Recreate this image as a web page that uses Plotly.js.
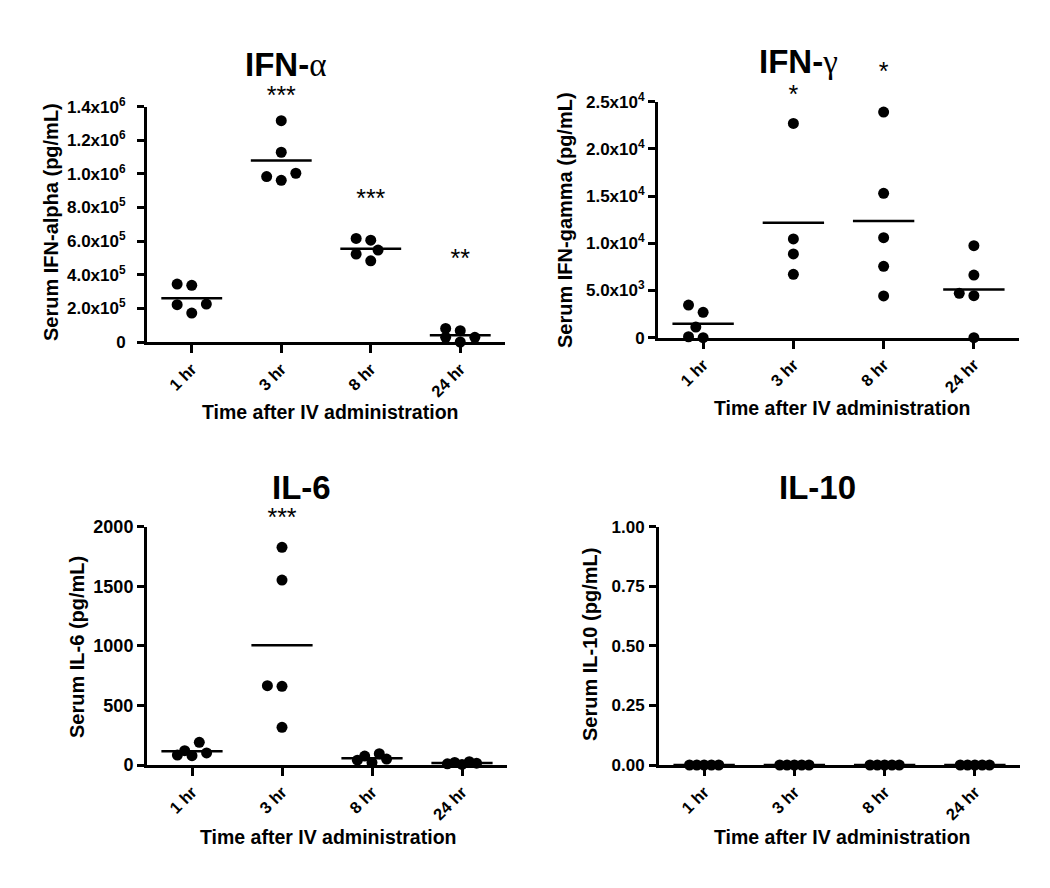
<!DOCTYPE html>
<html>
<head>
<meta charset="utf-8">
<script src="https://cdn.plot.ly/plotly-3.0.1.min.js"></script>
<style>
  html, body { margin: 0; padding: 0; background: #fff; }
  #chart { width: 1050px; height: 888px; }
</style>
</head>
<body>
<div id="chart"></div>
<script>
// time points
const categories = ['1 hr', '3 hr', '8 hr', '24 hr'];

// serum levels per time point (pg/mL)
const ifnAlpha = [
    [345000, 337000, 226000, 222000, 172000],
    [1317000, 1129000, 1004000, 984000, 962000],
    [616000, 606000, 547000, 523000, 483000],
    [81000, 67000, 28000, 28000, 0]
];
const ifnGamma = [
    [3460, 2690, 1130, 0, 100],
    [22700, 10460, 8870, 6710],
    [23900, 15300, 10600, 7560, 4420],
    [9750, 6640, 4700, 4450, 0]
];
const il6 = [
    [190, 120, 101, 84, 78],
    [1827, 1552, 666, 660, 316],
    [95, 75, 50, 40, 20],
    [28, 22, 15, 10, 5]
];
const il10 = [
    [0, 0, 0, 0, 0],
    [0, 0, 0, 0, 0],
    [0, 0, 0, 0, 0],
    [0, 0, 0, 0, 0]
];

// significance marks per time point
const sigAlpha = ['', '***', '***', '**'];
const sigGamma = ['', '*', '*', ''];
const sigIl6 = ['', '***', '', ''];
const sigIl10 = ['', '', '', ''];

// y tick values and labels
const alphaTicks = [0, 2e5, 4e5, 6e5, 8e5, 1e6, 1.2e6, 1.4e6];
const alphaTickText = ['0', '2.0x10<sup>5</sup>', '4.0x10<sup>5</sup>', '6.0x10<sup>5</sup>', '8.0x10<sup>5</sup>',
    '1.0x10<sup>6</sup>', '1.2x10<sup>6</sup>', '1.4x10<sup>6</sup>'];
const gammaTicks = [0, 5000, 10000, 15000, 20000, 25000];
const gammaTickText = ['0', '5.0x10<sup>3</sup>', '1.0x10<sup>4</sup>', '1.5x10<sup>4</sup>', '2.0x10<sup>4</sup>', '2.5x10<sup>4</sup>'];
const il6Ticks = [0, 500, 1000, 1500, 2000];
const il6TickText = ['0', '500', '1000', '1500', '2000'];
const il10Ticks = [0, 0.25, 0.5, 0.75, 1];
const il10TickText = ['0.00', '0.25', '0.50', '0.75', '1.00'];

const W = 1050, H = 888;
const FONT = 'Liberation Sans, Arial, Helvetica, sans-serif';
const GREEK = '<span style="font-family:Liberation Serif, Times New Roman, serif;font-weight:normal">';

// panel boxes in pixels + label placement
const panels = [
    { data: ifnAlpha, sig: sigAlpha, sigY: [0, 1.525e6, 0.916e6, 0.556e6], ticks: alphaTicks, tickText: alphaTickText,
      yMax: 1.4e6, box: [147, 505, 106.7, 342], tickSize: 17, standoff: 8,
      title: 'IFN-' + GREEK + 'α</span>', titlePos: [285, 65],
      ytitle: 'Serum IFN-alpha (pg/mL)', ytitlePos: [51, 222], xtitlePos: [330, 412] },
    { data: ifnGamma, sig: sigGamma, sigY: [0, 26850, 29250, 0], ticks: gammaTicks, tickText: gammaTickText,
      yMax: 25000, box: [658, 1019, 101.7, 337.7], tickSize: 17, standoff: 0,
      title: 'IFN-' + GREEK + 'γ</span>', titlePos: [798, 62],
      ytitle: 'Serum IFN-gamma (pg/mL)', ytitlePos: [565, 220], xtitlePos: [842, 408] },
    { data: il6, sig: sigIl6, sigY: [0, 2165, 0, 0], ticks: il6Ticks, tickText: il6TickText,
      yMax: 2000, box: [147, 507, 526.7, 765], tickSize: 18, standoff: 0,
      title: 'IL-6', titlePos: [301, 487],
      ytitle: 'Serum IL-6 (pg/mL)', ytitlePos: [77, 647], xtitlePos: [328, 837] },
    { data: il10, sig: sigIl10, sigY: [0, 0, 0, 0], ticks: il10Ticks, tickText: il10TickText,
      yMax: 1, box: [659, 1020, 526.7, 765], tickSize: 17, standoff: 1,
      title: 'IL-10', titlePos: [817, 487],
      ytitle: 'Serum IL-10 (pg/mL)', ytitlePos: [590, 645], xtitlePos: [842, 837] }
];

// spread points sideways like a GraphPad dot plot
function swarm(values, pxPerUnit) {
    const step = 7.3, minDist = 12;
    const slots = [0, -1, 1, -2, 2];
    const order = values.map((v, i) => i).sort((a, b) => values[a] - values[b]);
    const placed = [];
    const offs = new Array(values.length).fill(0);
    order.forEach(i => {
        const y = values[i] * pxPerUnit;
        let best = 0, bestD = -1;
        for (const k of slots) {
            const x = k * step;
            let d = Infinity;
            placed.forEach(p => { d = Math.min(d, Math.hypot(p.x - x, p.y - y)); });
            if (d >= minDist) { best = k; bestD = Infinity; break; }
            if (d > bestD) { bestD = d; best = k; }
        }
        placed.push({ x: best * step, y: y });
        offs[i] = best * step;
    });
    return offs;
}

const traces = [];
const annotations = [];
const layout = {
    width: W, height: H,
    margin: { l: 0, r: 0, t: 0, b: 0 },
    paper_bgcolor: '#fff', plot_bgcolor: 'rgba(0,0,0,0)',
    showlegend: false,
    font: { family: FONT, color: '#000' },
    annotations: annotations
};

panels.forEach((p, n) => {
    const id = n === 0 ? '' : String(n + 1);
    const sid = String(n + 5);   // hidden axes for the stars, same scale but taller
    const [l, r, t, b] = p.box;
    const pxPerCat = (r - l) / 4;
    const pxPerUnit = (b - t) / p.yMax;

    const xs = [], ys = [];
    const sx = [], sy = [], st = [];
    p.data.forEach((vals, i) => {
        const offs = swarm(vals, pxPerUnit);
        vals.forEach((v, j) => { xs.push(i + offs[j] / pxPerCat); ys.push(v); });
        const mean = vals.reduce((s, v) => s + v, 0) / vals.length;
        traces.push({
            x: [i - 0.34, i + 0.34], y: [mean, mean],
            xaxis: 'x' + id, yaxis: 'y' + id,
            type: 'scatter', mode: 'lines',
            line: { color: '#000', width: 2.5 },
            cliponaxis: false, hoverinfo: 'skip'
        });
        if (p.sig[i]) { sx.push(i); sy.push(p.sigY[i]); st.push(p.sig[i]); }
    });
    traces.push({
        x: xs, y: ys,
        xaxis: 'x' + id, yaxis: 'y' + id,
        type: 'scatter', mode: 'markers',
        marker: { color: '#000', size: 11 },
        cliponaxis: false
    });
    if (st.length) {
        traces.push({
            x: sx, y: sy, text: st,
            xaxis: 'x' + sid, yaxis: 'y' + sid,
            type: 'scatter', mode: 'text', textposition: 'bottom center',
            textfont: { family: FONT, size: 25, color: '#000' },
            cliponaxis: false
        });
    }

    layout['xaxis' + id] = {
        domain: [l / W, r / W], anchor: 'y' + id,
        range: [-0.5, 3.5], fixedrange: true,
        tickvals: [0, 1, 2, 3], ticktext: categories, tickangle: -45,
        ticks: 'outside', ticklen: 8, tickwidth: 3, tickcolor: '#000',
        showline: true, linewidth: 3, linecolor: '#000',
        showgrid: false, zeroline: false,
        tickfont: { family: FONT, size: 16.5, weight: 'bold', color: '#000' }
    };
    layout['yaxis' + id] = {
        domain: [1 - b / H, 1 - t / H], anchor: 'x' + id,
        range: [0, p.yMax], fixedrange: true,
        tickvals: p.ticks, ticktext: p.tickText,
        ticks: 'outside', ticklen: 7, tickwidth: 3, tickcolor: '#000',
        ticklabelstandoff: p.standoff,
        showline: true, linewidth: 3, linecolor: '#000',
        showgrid: false, zeroline: false,
        tickfont: { family: FONT, size: p.tickSize, weight: 'bold', color: '#000' }
    };
    layout['xaxis' + sid] = {
        domain: [l / W, r / W], anchor: 'y' + sid,
        range: [-0.5, 3.5], fixedrange: true, visible: false
    };
    layout['yaxis' + sid] = {
        domain: [1 - b / H, 1], anchor: 'x' + sid,
        range: [0, p.yMax * b / (b - t)], fixedrange: true, visible: false
    };

    annotations.push({
        xref: 'paper', yref: 'paper', x: p.titlePos[0] / W, y: 1 - p.titlePos[1] / H,
        xanchor: 'center', yanchor: 'middle', showarrow: false,
        text: '<b>' + p.title + '</b>',
        font: { family: FONT, size: 33, color: '#000' }
    });
    annotations.push({
        xref: 'paper', yref: 'paper', x: p.ytitlePos[0] / W, y: 1 - p.ytitlePos[1] / H,
        xanchor: 'center', yanchor: 'middle', showarrow: false, textangle: -90,
        text: '<b>' + p.ytitle + '</b>',
        font: { family: FONT, size: 20, color: '#000' }
    });
    annotations.push({
        xref: 'paper', yref: 'paper', x: p.xtitlePos[0] / W, y: 1 - p.xtitlePos[1] / H,
        xanchor: 'center', yanchor: 'middle', showarrow: false,
        text: '<b>Time after IV administration</b>',
        font: { family: FONT, size: 19.5, color: '#000' }
    });
});

Plotly.newPlot('chart', traces, layout, { displayModeBar: false, staticPlot: true });
</script>
</body>
</html>
